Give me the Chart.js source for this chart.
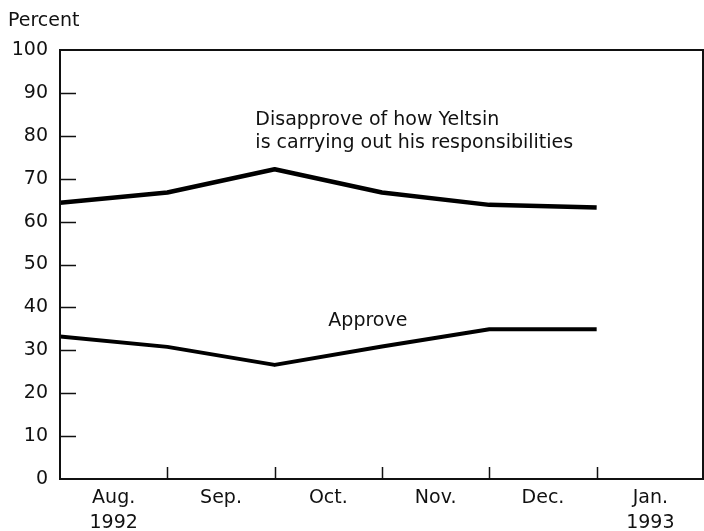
<!DOCTYPE html>
<html>
<head>
<meta charset="utf-8">
<script src="https://cdn.jsdelivr.net/npm/chart.js@4/dist/chart.umd.min.js"></script>
<style>
  html, body { margin: 0; padding: 0; background: #fff; }
  #wrap { width: 704px; height: 531px; position: relative; }
</style>
</head>
<body>
<div id="wrap"><canvas id="yeltsinChart"></canvas></div>
<script>
// month boundaries (0 = start of Aug 1992), survey readings at each
const monthLabels = [['Aug.', '1992'], ['Sep.'], ['Oct.'], ['Nov.'], ['Dec.'], ['Jan.', '1993']];
const pointPos = [0, 1, 2, 3, 4, 5];
const disapprove = [64.4, 66.8, 72.2, 66.8, 63.9, 63.3];
const approve = [33.2, 30.8, 26.6, 30.9, 34.9, 34.9];
const yTicks = [0, 10, 20, 30, 40, 50, 60, 70, 80, 90, 100];

const FONT = '"DejaVu Sans", Helvetica, Arial, sans-serif';
const INK = '#111';

function toPoints(vals) {
  return vals.map(function(v, i) { return { x: pointPos[i], y: v }; });
}

// box, inward tick marks and the text notes
const frameAndNotes = {
  id: 'frameAndNotes',
  afterDatasetsDraw: function(chart) {
    const ctx = chart.ctx;
    const a = chart.chartArea;
    const xs = chart.scales.x, ys = chart.scales.y;
    ctx.save();
    ctx.strokeStyle = INK;
    ctx.lineWidth = 2;
    ctx.strokeRect(a.left, a.top, a.right - a.left - 1, a.bottom - a.top);

    ctx.lineWidth = 1.5;
    ctx.beginPath();
    for (let i = 1; i < monthLabels.length; i++) {
      const px = Math.round(xs.getPixelForValue(i)) + 0.5;
      ctx.moveTo(px, a.bottom);
      ctx.lineTo(px, a.bottom - 12);
    }
    yTicks.slice(1, -1).forEach(function(t) {
      const py = Math.round(ys.getPixelForValue(t)) + 0.5;
      ctx.moveTo(a.left, py);
      ctx.lineTo(a.left + 16, py);
    });
    ctx.stroke();

    ctx.fillStyle = INK;
    ctx.font = '19px ' + FONT;
    ctx.textAlign = 'left';
    ctx.textBaseline = 'alphabetic';
    ctx.fillText('Disapprove of how Yeltsin', xs.getPixelForValue(1.82), ys.getPixelForValue(82.5));
    ctx.fillText('is carrying out his responsibilities', xs.getPixelForValue(1.82), ys.getPixelForValue(77.1));
    ctx.fillText('Approve', xs.getPixelForValue(2.5), ys.getPixelForValue(35.6));
    ctx.fillText('Percent', 8, 26);
    ctx.restore();
  }
};

const yeltsinChart = new Chart(document.getElementById('yeltsinChart'), {
  type: 'line',
  data: {
    datasets: [
      {
        label: 'Disapprove',
        data: toPoints(disapprove),
        borderColor: '#000',
        borderWidth: 4.5,
        pointRadius: 0,
        tension: 0,
        borderJoinStyle: 'round'
      },
      {
        label: 'Approve',
        data: toPoints(approve),
        borderColor: '#000',
        borderWidth: 4,
        pointRadius: 0,
        tension: 0,
        borderJoinStyle: 'round'
      }
    ]
  },
  options: {
    responsive: true,
    maintainAspectRatio: false,
    animation: false,
    layout: { padding: { top: 50, right: 0, left: 0, bottom: 0 } },
    plugins: {
      legend: { display: false },
      tooltip: { enabled: false }
    },
    scales: {
      x: {
        type: 'linear',
        min: 0,
        max: 6,
        grid: { display: false },
        border: { display: false },
        afterBuildTicks: function(scale) {
          scale.ticks = monthLabels.map(function(l, i) { return { value: i + 0.5 }; });
        },
        afterFit: function(scale) { scale.height = 52; },
        ticks: {
          autoSkip: false,
          maxRotation: 0,
          padding: -2,
          color: INK,
          font: { family: FONT, size: 19, lineHeight: 1.34 },
          callback: function(v, i) { return monthLabels[i]; }
        }
      },
      y: {
        min: 0,
        max: 100,
        grid: { display: false },
        border: { display: false },
        afterBuildTicks: function(scale) {
          scale.ticks = yTicks.map(function(t) { return { value: t }; });
        },
        afterFit: function(scale) { scale.width = 60; },
        ticks: {
          padding: 4,
          color: INK,
          font: { family: FONT, size: 19 }
        }
      }
    }
  },
  plugins: [frameAndNotes]
});
</script>
</body>
</html>
